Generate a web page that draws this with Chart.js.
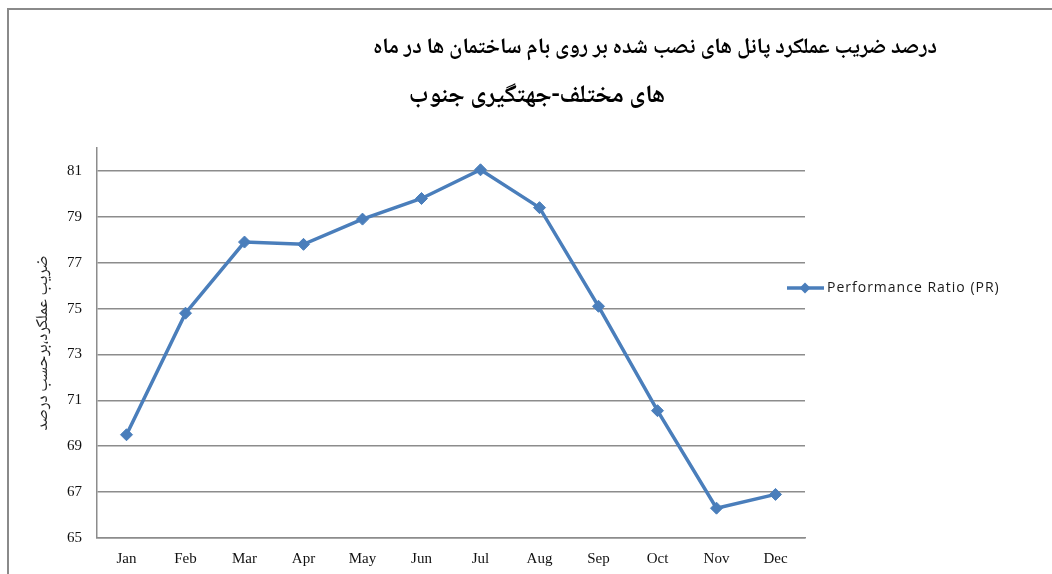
<!DOCTYPE html>
<html>
<head>
<meta charset="utf-8">
<script src="https://cdn.jsdelivr.net/npm/chart.js@4"></script>
<style>
html,body{margin:0;padding:0;background:#fff;}
#wrap{position:relative;width:1052px;height:574px;}
#frame{position:absolute;left:7px;top:8px;width:1045px;height:566px;border-left:2px solid #8a8a8a;border-top:2px solid #8a8a8a;box-sizing:border-box;pointer-events:none;}
canvas{display:block;}
</style>
</head>
<body>
<div id="wrap">
<canvas id="c" width="1052" height="574"></canvas>
<div id="frame"></div>
</div>
<script>
const titleLines = ["درصد ضریب عملکرد پانل های نصب شده بر روی بام ساختمان ها در ماه", "های مختلف-جهتگیری جنوب"];
const yAxisTitle = "ضریب عملکرد،برحسب درصد";
const months = ["Jan","Feb","Mar","Apr","May","Jun","Jul","Aug","Sep","Oct","Nov","Dec"];
const seriesLabel = "Performance Ratio (PR)";
const prValues = [69.5, 74.8, 77.9, 77.8, 78.9, 79.8, 81.05, 79.4, 75.1, 70.55, 66.3, 66.9];
const yTicks = [65, 67, 69, 71, 73, 75, 77, 79, 81];

const lineColor = '#4A7EBB';
const gridColor = '#8c8c8c';
const arabicFont = '"Noto Naskh Arabic","Noto Sans Arabic","DejaVu Sans",sans-serif';

const titlePlugin = {
  id: 'twoLineTitle',
  afterDraw(chart) {
    const ctx = chart.ctx;
    ctx.save();
    ctx.fillStyle = '#000';
    ctx.direction = 'rtl';
    ctx.textBaseline = 'middle';
    ctx.textAlign = 'center';
    ctx.font = 'bold 22px ' + arabicFont;
    ctx.fillText(titleLines[0], 655, 50);
    ctx.font = 'bold 25px ' + arabicFont;
    ctx.fillText(titleLines[1], 537, 99);
    ctx.restore();
  }
};

const legendPlugin = {
  id: 'sideLegend',
  afterDraw(chart) {
    const ctx = chart.ctx;
    const ds = chart.data.datasets[0];
    const y = 288;
    ctx.save();
    ctx.strokeStyle = ds.borderColor;
    ctx.lineWidth = 3.5;
    ctx.beginPath();
    ctx.moveTo(787, y);
    ctx.lineTo(824, y);
    ctx.stroke();
    ctx.fillStyle = ds.borderColor;
    ctx.beginPath();
    const r = 5.5;
    ctx.moveTo(805, y - r); ctx.lineTo(805 + r, y); ctx.lineTo(805, y + r); ctx.lineTo(805 - r, y); ctx.closePath();
    ctx.fill();
    ctx.fillStyle = '#1a1a1a';
    ctx.font = '14px "Open Sans", sans-serif';
    if ('letterSpacing' in ctx) ctx.letterSpacing = '1px';
    ctx.textBaseline = 'middle';
    ctx.textAlign = 'left';
    ctx.fillText(ds.label, 827, y);
    ctx.restore();
  }
};

new Chart(document.getElementById('c'), {
  type: 'line',
  data: {
    labels: months,
    datasets: [{
      label: seriesLabel,
      data: prValues,
      borderColor: lineColor,
      backgroundColor: lineColor,
      borderWidth: 3.5,
      pointStyle: 'rectRot',
      pointRadius: 6,
      pointHoverRadius: 6,
      pointBackgroundColor: lineColor,
      pointBorderColor: lineColor,
      pointBorderWidth: 1,
      tension: 0,
      fill: false
    }]
  },
  options: {
    responsive: false,
    animation: false,
    devicePixelRatio: 1,
    layout: { padding: { left: 25, top: 148, right: 247, bottom: 0 } },
    plugins: {
      legend: { display: false },
      title: { display: false },
      tooltip: { enabled: false }
    },
    scales: {
      x: {
        type: 'category',
        offset: true,
        grid: { display: false, drawTicks: false },
        border: { display: true, color: gridColor, width: 1.5 },
        ticks: {
          color: '#111',
          font: { family: '"Liberation Serif", serif', size: 15 },
          padding: 12,
          maxRotation: 0
        },
        afterFit(scale) { scale.height = 36; }
      },
      y: {
        type: 'linear',
        min: 65,
        max: 82,
        afterBuildTicks(scale) { scale.ticks = yTicks.map(v => ({ value: v })); },
        grid: { color: gridColor, lineWidth: 1.5, drawTicks: false },
        border: { display: true, color: gridColor, width: 1.5 },
        ticks: {
          color: '#111',
          font: { family: '"Liberation Serif", serif', size: 15 },
          padding: 15
        },
        title: {
          display: true,
          text: yAxisTitle,
          color: '#222',
          font: { family: arabicFont, size: 17 },
          padding: { top: 10, bottom: 0 }
        },
        afterFit(scale) { scale.width = 72; }
      }
    }
  },
  plugins: [titlePlugin, legendPlugin]
});
</script>
</body>
</html>
